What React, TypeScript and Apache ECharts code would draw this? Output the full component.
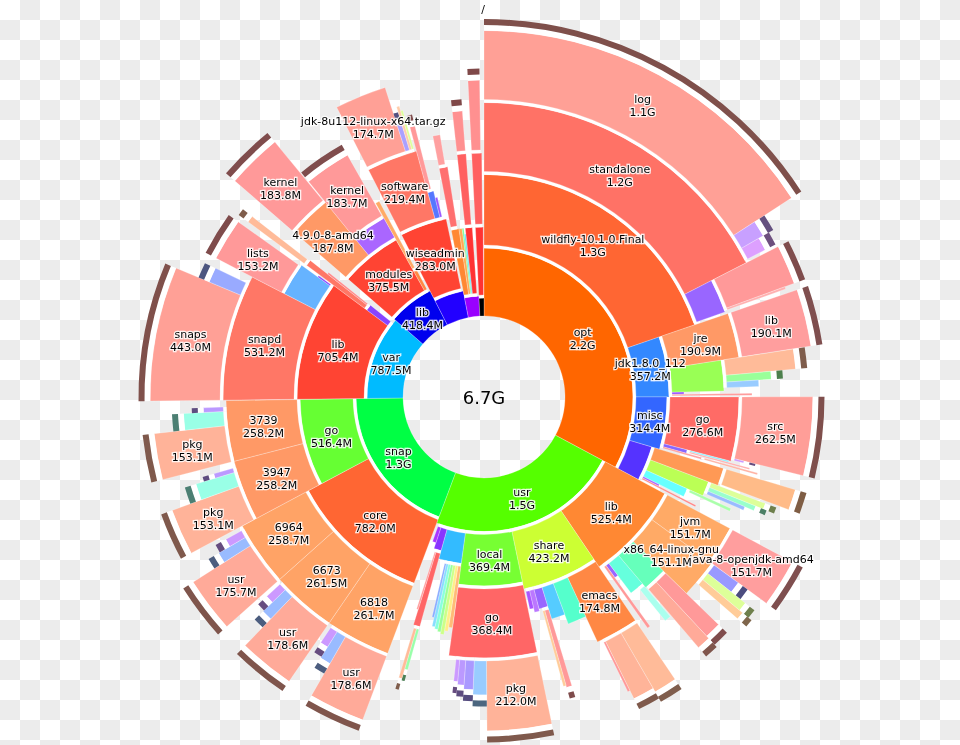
import React, { useEffect, useRef } from "react";
import * as echarts from "echarts";

type Row = [string, number];

// ---------- DATA (sizes in MiB) ----------
const topLevel: Row[] = [
  ["opt", 2235], ["usr", 1560], ["snap", 1300], ["var", 787.5],
  ["lib", 418.4], ["home", 300], ["root", 155], ["boot", 55],
];

const optRows: Row[] = [
  ["opt/wildfly-10.1.0.Final", 1345],
  ["opt/wildfly-10.1.0.Final/standalone", 1190],
  ["opt/wildfly-10.1.0.Final/standalone/log", 1080],
  ["opt/wildfly-10.1.0.Final/standalone/tmp", 55],
  ["opt/wildfly-10.1.0.Final/standalone/data", 45],
  ["opt/wildfly-10.1.0.Final/modules", 145],
  ["opt/wildfly-10.1.0.Final/modules/system", 132],
  ["opt/wildfly-10.1.0.Final/modules/extra", 8],
  ["opt/jdk1.8.0_112", 357.2],
  ["opt/jdk1.8.0_112/jre", 190.9],
  ["opt/jdk1.8.0_112/jre/lib", 190.1],
  ["opt/jdk1.8.0_112/lib", 140],
  ["opt/jdk1.8.0_112/lib/missioncontrol", 70],
  ["opt/jdk1.8.0_112/lib/visualvm", 30],
  ["opt/jdk1.8.0_112/lib/ct.sym", 25],
  ["opt/jdk1.8.0_112/src.zip", 12],
  ["opt/jdk1.8.0_112/javafx-src.zip", 8],
  ["opt/misc", 314.4],
  ["opt/misc/go", 276.6],
  ["opt/misc/go/src", 262.5],
  ["opt/misc/go/pkg", 8],
  ["opt/misc/tools", 18],
  ["opt/misc/tools/a", 7],
  ["opt/misc/tools/b", 6],
  ["opt/misc/bin", 8],
  ["opt/misc/bin/x", 7],
  ["opt/jboss", 218.4],
  ["opt/jboss/server", 78],
  ["opt/jboss/server/default", 70],
  ["opt/jboss/client", 68],
  ["opt/jboss/client/a", 22],
  ["opt/jboss/client/b", 18],
  ["opt/jboss/client/c", 14],
  ["opt/jboss/lib", 42],
  ["opt/jboss/lib/d", 12],
  ["opt/jboss/bin", 10],
  ["opt/jboss/docs", 8],
];

const usrRows: Row[] = [
  ["usr/lib", 525.4],
  ["usr/lib/jvm", 151.7],
  ["usr/lib/jvm/java-8-openjdk-amd64", 151.7],
  ["usr/lib/x86_64-linux-gnu", 151.1],
  ["usr/lib/x86_64-linux-gnu/dri", 40],
  ["usr/lib/x86_64-linux-gnu/gtk", 30],
  ["usr/lib/x86_64-linux-gnu/perl", 25],
  ["usr/lib/python3", 105],
  ["usr/lib/python3/dist-packages", 55],
  ["usr/lib/python3/x", 45],
  ["usr/lib/gcc", 65],
  ["usr/lib/gcc/y", 25],
  ["usr/lib/firmware", 18],
  ["usr/lib/locale", 12],
  ["usr/share", 423.2],
  ["usr/share/emacs", 174.8],
  ["usr/share/emacs/lisp", 75],
  ["usr/share/emacs/site-lisp", 70],
  ["usr/share/emacs/etc", 8],
  ["usr/share/doc", 85],
  ["usr/share/icons", 65],
  ["usr/share/fonts", 45],
  ["usr/share/fonts/truetype", 20],
  ["usr/share/fonts/x", 10],
  ["usr/share/locale", 25],
  ["usr/share/man", 20],
  ["usr/local", 369.4],
  ["usr/local/go", 368.4],
  ["usr/local/go/pkg", 212.0],
  ["usr/local/go/src", 50],
  ["usr/local/go/misc", 35],
  ["usr/local/go/test", 25],
  ["usr/local/go/bin", 15],
  ["usr/bin", 148],
  ["usr/bin/a", 18],
  ["usr/bin/b", 16],
  ["usr/bin/c", 16],
  ["usr/bin/d", 15],
  ["usr/bin/e", 15],
  ["usr/bin/f", 14],
  ["usr/bin/g", 10],
  ["usr/include", 50],
  ["usr/include/x", 30],
  ["usr/include/x/y", 12],
  ["usr/include/x/z", 12],
  ["usr/include/w", 8],
  ["usr/sbin", 25],
];

const snapRows: Row[] = [
  ["snap/core", 782.0],
  ["snap/core/6818", 261.7],
  ["snap/core/6818/usr", 178.6],
  ["snap/core/6818/lib", 38],
  ["snap/core/6818/bin", 30],
  ["snap/core/6673", 261.5],
  ["snap/core/6673/usr", 178.6],
  ["snap/core/6673/lib", 38],
  ["snap/core/6673/bin", 30],
  ["snap/core/6964", 258.7],
  ["snap/core/6964/usr", 175.7],
  ["snap/core/6964/lib", 38],
  ["snap/core/6964/bin", 30],
  ["snap/go", 516.4],
  ["snap/go/3947", 258.2],
  ["snap/go/3947/pkg", 153.1],
  ["snap/go/3947/src", 60],
  ["snap/go/3947/bin", 18],
  ["snap/go/3739", 258.2],
  ["snap/go/3739/pkg", 153.1],
  ["snap/go/3739/src", 60],
  ["snap/go/3739/bin", 18],
];

const varRows: Row[] = [
  ["var/lib", 705.4],
  ["var/lib/snapd", 531.2],
  ["var/lib/snapd/snaps", 443.0],
  ["var/lib/snapd/cache", 55],
  ["var/lib/apt", 160],
  ["var/lib/apt/lists", 153.2],
  ["var/lib/dpkg", 8],
  ["var/cache", 45],
  ["var/cache/apt", 30],
  ["var/cache/apt/archives", 25],
  ["var/cache/x", 10],
];

const libRows: Row[] = [
  ["lib/modules", 375.5],
  ["lib/modules/4.9.0-8-amd64", 187.8],
  ["lib/modules/4.9.0-8-amd64/kernel", 183.8],
  ["lib/modules/4.9.0-6-amd64", 187.6],
  ["lib/modules/4.9.0-6-amd64/kernel", 183.7],
  ["lib/x86_64-linux-gnu", 25],
  ["lib/x86_64-linux-gnu/y", 20],
];

const homeRows: Row[] = [
  ["home/wiseadmin", 283.0],
  ["home/wiseadmin/software", 219.4],
  ["home/wiseadmin/software/jdk-8u112-linux-x64.tar.gz", 174.7],
  ["home/wiseadmin/software/eclipse", 18],
  ["home/wiseadmin/software/a", 10],
  ["home/wiseadmin/software/b", 8],
  ["home/wiseadmin/go", 30],
  ["home/wiseadmin/go/pkg", 20],
  ["home/wiseadmin/.cache", 12],
];

const otherRows: Row[] = [
  ["root/a", 50],
  ["root/a/b", 40],
  ["root/a/b/c", 30],
  ["root/d", 20],
  ["root/e", 10],
  ["root/f", 10],
  ["root/g", 45],
  ["root/g/h", 40],
  ["root/g/h/i", 38],
  ["boot/x", 50],
  ["boot/x/y", 45],
  ["boot/x/y/z", 40],
];

// ---------- PRESENTATION: colour, ring thickness (px), flags (1 = deeper levels hidden, 2 = no label) ----------
const looks: Record<string, [string, number, number?]> = {
  "opt": ["#FF6600", 68],
  "opt/wildfly-10.1.0.Final": ["#FF6633", 70.5],
  "opt/wildfly-10.1.0.Final/standalone": ["#FF7266", 69],
  "opt/wildfly-10.1.0.Final/standalone/log": ["#FFA096", 69, 1],
  "opt/wildfly-10.1.0.Final/standalone/tmp": ["#C8A0FF", 25, 1],
  "opt/wildfly-10.1.0.Final/standalone/data": ["#DDA0FF", 20, 1],
  "opt/wildfly-10.1.0.Final/modules": ["#9966FF", 30],
  "opt/wildfly-10.1.0.Final/modules/system": ["#FF9999", 72, 1],
  "opt/wildfly-10.1.0.Final/modules/extra": ["#FFB0B0", 62],
  "opt/jdk1.8.0_112": ["#3388FF", 33],
  "opt/jdk1.8.0_112/jre": ["#FF9966", 70],
  "opt/jdk1.8.0_112/jre/lib": ["#FF9E9E", 70, 1],
  "opt/jdk1.8.0_112/lib": ["#99FF55", 52],
  "opt/jdk1.8.0_112/lib/missioncontrol": ["#FFBB99", 70, 1],
  "opt/jdk1.8.0_112/lib/visualvm": ["#99FF99", 45, 1],
  "opt/jdk1.8.0_112/lib/ct.sym": ["#99CCFF", 32],
  "opt/jdk1.8.0_112/src.zip": ["#9955FF", 12],
  "opt/jdk1.8.0_112/javafx-src.zip": ["#FF9999", 80],
  "opt/misc": ["#3366FF", 31],
  "opt/misc/go": ["#FF6B66", 69],
  "opt/misc/go/src": ["#FF9E98", 71, 1],
  "opt/misc/go/pkg": ["#CC99FF", 10, 1],
  "opt/misc/tools": ["#8866FF", 24],
  "opt/misc/tools/a": ["#88EEFF", 40],
  "opt/misc/tools/b": ["#FFAAAA", 62],
  "opt/misc/bin": ["#FF9999", 40],
  "opt/misc/bin/x": ["#FFB0A0", 55],
  "opt/jboss": ["#5533FF", 23],
  "opt/jboss/server": ["#FF9955", 72],
  "opt/jboss/server/default": ["#FFBB88", 72, 1],
  "opt/jboss/client": ["#BBFF55", 62],
  "opt/jboss/client/a": ["#DDFF99", 58, 1],
  "opt/jboss/client/b": ["#99FFCC", 50, 1],
  "opt/jboss/client/c": ["#99BBFF", 40],
  "opt/jboss/lib": ["#66FFFF", 45],
  "opt/jboss/lib/d": ["#AAFFAA", 45],
  "opt/jboss/bin": ["#AA66FF", 18],
  "opt/jboss/docs": ["#FF8888", 60],

  "usr": ["#55FF00", 53.5],
  "usr/lib": ["#FF8833", 67.5],
  "usr/lib/jvm": ["#FFAA66", 71],
  "usr/lib/jvm/java-8-openjdk-amd64": ["#FF9E9E", 68, 1],
  "usr/lib/x86_64-linux-gnu": ["#FFAA66", 74],
  "usr/lib/x86_64-linux-gnu/dri": ["#9999FF", 30, 1],
  "usr/lib/x86_64-linux-gnu/gtk": ["#DDFF99", 48, 1],
  "usr/lib/x86_64-linux-gnu/perl": ["#FFCC99", 52, 1],
  "usr/lib/python3": ["#66FFBB", 42],
  "usr/lib/python3/dist-packages": ["#FF9999", 74, 1],
  "usr/lib/python3/x": ["#FFAA99", 77, 1],
  "usr/lib/gcc": ["#66FFDD", 37],
  "usr/lib/gcc/y": ["#AAFFEE", 40],
  "usr/lib/firmware": ["#9966FF", 15],
  "usr/lib/locale": ["#FF9999", 75],
  "usr/share": ["#CCFF33", 58.5],
  "usr/share/emacs": ["#FF8844", 71],
  "usr/share/emacs/lisp": ["#FFBB99", 68, 1],
  "usr/share/emacs/site-lisp": ["#FFB499", 64, 1],
  "usr/share/emacs/etc": ["#FF9999", 55],
  "usr/share/doc": ["#55FFCC", 43],
  "usr/share/icons": ["#55CCFF", 33],
  "usr/share/fonts": ["#9966FF", 20],
  "usr/share/fonts/truetype": ["#FF9999", 80, 1],
  "usr/share/fonts/x": ["#FFCC99", 78],
  "usr/share/locale": ["#BB77FF", 22],
  "usr/share/man": ["#AA55FF", 18],
  "usr/local": ["#77FF33", 51.5],
  "usr/local/go": ["#FF6666", 69],
  "usr/local/go/pkg": ["#FFB399", 70, 1],
  "usr/local/go/src": ["#99CCFF", 34, 1],
  "usr/local/go/misc": ["#AA99FF", 29, 1],
  "usr/local/go/test": ["#BB99FF", 25, 1],
  "usr/local/go/bin": ["#CC99FF", 22, 1],
  "usr/bin": ["#33BBFF", 30.5],
  "usr/bin/a": ["#FFBB77", 62],
  "usr/bin/b": ["#FFEE88", 66],
  "usr/bin/c": ["#CCFF88", 70],
  "usr/bin/d": ["#99FF99", 68],
  "usr/bin/e": ["#88FFDD", 66],
  "usr/bin/f": ["#88DDFF", 64],
  "usr/bin/g": ["#88AAFF", 55],
  "usr/include": ["#8833FF", 22],
  "usr/include/x": ["#FF6666", 76],
  "usr/include/x/y": ["#99FFAA", 42, 1],
  "usr/include/x/z": ["#FFBB99", 52, 1],
  "usr/include/w": ["#FF9999", 60],
  "usr/sbin": ["#AA33FF", 16],

  "snap": ["#00FF44", 47],
  "snap/core": ["#FF6633", 68],
  "snap/core/6818": ["#FFA366", 72],
  "snap/core/6818/usr": ["#FFAA99", 68, 1],
  "snap/core/6818/lib": ["#99BBFF", 31, 1],
  "snap/core/6818/bin": ["#CC99FF", 18, 1],
  "snap/core/6673": ["#FFA366", 72],
  "snap/core/6673/usr": ["#FFAA99", 68, 1],
  "snap/core/6673/lib": ["#99BBFF", 31, 1],
  "snap/core/6673/bin": ["#CC99FF", 18, 1],
  "snap/core/6964": ["#FFA366", 72],
  "snap/core/6964/usr": ["#FFAA99", 68, 1],
  "snap/core/6964/lib": ["#99BBFF", 31, 1],
  "snap/core/6964/bin": ["#CC99FF", 18, 1],
  "snap/go": ["#66FF33", 53],
  "snap/go/3947": ["#FF9966", 71],
  "snap/go/3947/pkg": ["#FFB399", 71, 1],
  "snap/go/3947/src": ["#99FFE6", 40, 1],
  "snap/go/3947/bin": ["#BB99FF", 20, 1],
  "snap/go/3739": ["#FF9966", 71],
  "snap/go/3739/pkg": ["#FFB399", 71, 1],
  "snap/go/3739/src": ["#99FFE6", 40, 1],
  "snap/go/3739/bin": ["#BB99FF", 20, 1],

  "var": ["#00BBFF", 36],
  "var/lib": ["#FF4433", 67],
  "var/lib/snapd": ["#FF7766", 71],
  "var/lib/snapd/snaps": ["#FFA096", 70, 1],
  "var/lib/snapd/cache": ["#99AAFF", 34, 1],
  "var/lib/apt": ["#66B3FF", 35, 2],
  "var/lib/apt/lists": ["#FF9999", 74, 1],
  "var/lib/dpkg": ["#8844FF", 15],
  "var/cache": ["#8844FF", 26],
  "var/cache/apt": ["#FF7766", 72],
  "var/cache/apt/archives": ["#FFBB99", 70, 1],
  "var/cache/x": ["#FF8888", 50],

  "lib": ["#0000EE", 38],
  "lib/modules": ["#FF4433", 58],
  "lib/modules/4.9.0-8-amd64": ["#FF9966", 68],
  "lib/modules/4.9.0-8-amd64/kernel": ["#FF9999", 76, 1],
  "lib/modules/4.9.0-6-amd64": ["#AA66FF", 22],
  "lib/modules/4.9.0-6-amd64/kernel": ["#FF9999", 70, 1],
  "lib/x86_64-linux-gnu": ["#FF8844", 22],
  "lib/x86_64-linux-gnu/y": ["#FFAA66", 75],

  "home": ["#2200FF", 27],
  "home/wiseadmin": ["#FF4433", 71],
  "home/wiseadmin/software": ["#FF7766", 70],
  "home/wiseadmin/software/jdk-8u112-linux-x64.tar.gz": ["#FFA096", 67],
  "home/wiseadmin/software/eclipse": ["#AAA0FF", 28, 1],
  "home/wiseadmin/software/a": ["#FFCCAA", 45],
  "home/wiseadmin/software/b": ["#DDFF99", 40],
  "home/wiseadmin/go": ["#5577FF", 27],
  "home/wiseadmin/go/pkg": ["#FF9999", 65, 1],
  "home/wiseadmin/.cache": ["#9955FF", 20],

  "root": ["#9900FF", 20],
  "root/a": ["#FF8833", 66],
  "root/a/b": ["#FF7070", 60],
  "root/a/b/c": ["#FFA0A0", 30],
  "root/d": ["#FFAA55", 66],
  "root/e": ["#77FF99", 66],
  "root/f": ["#55DDFF", 60],
  "root/g": ["#FF3333", 66],
  "root/g/h": ["#FF6060", 71],
  "root/g/h/i": ["#FF9090", 40, 1],
  "boot": ["#000000", 18],
  "boot/x": ["#FF3333", 68],
  "boot/x/y": ["#FF6060", 71],
  "boot/x/y/z": ["#FF9090", 70, 1],
};

const HOLE_R = 81;
const GAP = 3;
const FONT = '"DejaVu Sans", "Liberation Sans", sans-serif';

interface Node {
  path: string; name: string; size: number; level: number;
  children: Node[]; a0: number; a1: number; r1: number; r2: number;
  color: string; width: number; flags: number;
}

const fmt = (v: number) => (v >= 1024 ? (v / 1024).toFixed(1) + "G" : v.toFixed(1) + "M");

function build() {
  const rows: Row[] = [...topLevel, ...optRows, ...usrRows, ...snapRows, ...varRows, ...libRows, ...homeRows, ...otherRows];
  const total = topLevel.reduce((s, r) => s + r[1], 0);
  const root: Node = { path: "", name: "/", size: total, level: 0, children: [], a0: 0, a1: total, r1: 0, r2: 0, color: "#fff", width: 0, flags: 0 };
  const map = new Map<string, Node>([["", root]]);
  const list: Node[] = [];
  for (const [path, size] of rows) {
    const k = path.lastIndexOf("/");
    const parent = map.get(k < 0 ? "" : path.slice(0, k));
    if (!parent) continue;
    const look = looks[path] || ["#cccccc", 20, 0];
    const n: Node = { path, name: path.slice(k + 1), size, level: parent.level + 1, children: [], a0: 0, a1: 0, r1: 0, r2: 0, color: look[0], width: look[1], flags: look[2] || 0 };
    parent.children.push(n);
    map.set(path, n);
    list.push(n);
  }
  const place = (p: Node) => {
    let cur = p.a0;
    for (const c of p.children) {
      c.a0 = cur; c.a1 = cur + c.size; cur = c.a1;
      c.r1 = p.level === 0 ? HOLE_R : p.r2 + GAP;
      c.r2 = c.r1 + c.width;
      place(c);
    }
  };
  place(root);
  return { total, list };
}

const darken = (hex: string) => {
  const v = parseInt(hex.slice(1), 16);
  return `rgb(${((v >> 16) & 255) >> 1},${((v >> 8) & 255) >> 1},${(v & 255) >> 1})`;
};

export default function App() {
  const ref = useRef<HTMLDivElement>(null);
  useEffect(() => {
    if (!ref.current) return;
    const { total, list } = build();
    const chart = echarts.init(ref.current, null, { renderer: "svg", width: 960, height: 745 });
    const data = list.map((n, i) => [n.r1, n.a0, n.r2, n.a1, i]);

    const geom = (params: any, api: any) => {
      const cx = params.coordSys.cx, cy = params.coordSys.cy;
      const p0 = api.coord([api.value(0), api.value(1)]);
      const p1 = api.coord([api.value(2), api.value(3)]);
      const rIn = Math.hypot(p0[0] - cx, p0[1] - cy);
      const rOut = Math.hypot(p1[0] - cx, p1[1] - cy);
      const s = Math.atan2(p0[1] - cy, p0[0] - cx);
      let e = Math.atan2(p1[1] - cy, p1[0] - cx);
      while (e <= s) e += Math.PI * 2;
      return { cx, cy, rIn, rOut, s, e };
    };

    const sectorItem = (params: any, api: any) => {
      const n = list[api.value(4)];
      const { cx, cy, rIn, rOut, s, e } = geom(params, api);
      const kids: any[] = [];
      if (n.level > 1) {
        kids.push({ type: "sector", shape: { cx, cy, r0: rIn - GAP - 0.2, r: rIn + 0.3, startAngle: s, endAngle: e, clockwise: true }, style: { fill: "#ffffff" } });
      }
      kids.push({ type: "sector", shape: { cx, cy, r0: rIn, r: rOut, startAngle: s, endAngle: e, clockwise: true }, style: { fill: n.color, stroke: "rgba(255,255,255,0.5)", lineWidth: 0.5 } });
      if (n.flags & 1) {
        kids.push({ type: "sector", shape: { cx, cy, r0: rOut - 0.3, r: rOut + 5.5, startAngle: s, endAngle: e, clockwise: true }, style: { fill: "#ffffff" } });
        kids.push({ type: "sector", shape: { cx, cy, r0: rOut + 5.5, r: rOut + 11.5, startAngle: s, endAngle: e, clockwise: true }, style: { fill: darken(n.color) } });
      }
      return { type: "group", children: kids };
    };

    const labelItem = (params: any, api: any) => {
      const n = list[api.value(4)];
      if (!(n.size >= 150 && n.width >= 28 && !(n.flags & 2))) return null;
      const c = api.coord([(api.value(0) + api.value(2)) / 2, (api.value(1) + api.value(3)) / 2]);
      const text = n.name + "\n" + fmt(n.size);
      const base = { text, font: `11px ${FONT}`, align: "center", textAlign: "center", verticalAlign: "middle", textVerticalAlign: "middle", lineHeight: 13 };
      return {
        type: "group",
        children: [
          { type: "text", x: c[0], y: c[1] + 1, style: { ...base, fill: "rgba(255,255,255,0.9)", stroke: "rgba(255,255,255,0.85)", lineWidth: 2.6, lineJoin: "round" } },
          { type: "text", x: c[0], y: c[1] + 1, style: { ...base, fill: "#000000" } },
        ],
      };
    };

    chart.setOption({
      animation: false,
      backgroundColor: "transparent",
      polar: { center: [484, 397], radius: 400 },
      angleAxis: { type: "value", min: 0, max: total, startAngle: 90, clockwise: true, show: false, axisLine: { show: false }, splitLine: { show: false }, axisLabel: { show: false }, axisTick: { show: false } },
      radiusAxis: { type: "value", min: 0, max: 400, show: false, axisLine: { show: false }, splitLine: { show: false }, axisLabel: { show: false }, axisTick: { show: false } },
      series: [
        { type: "custom", coordinateSystem: "polar", silent: true, data, renderItem: sectorItem, z: 2 },
        { type: "custom", coordinateSystem: "polar", silent: true, data, renderItem: labelItem, z: 5 },
      ],
      graphic: [
        { type: "text", x: 484, y: 397, z: 10, style: { text: fmt(total), font: `18px ${FONT}`, fill: "#000", align: "center", textAlign: "center", verticalAlign: "middle", textVerticalAlign: "middle" } },
        { type: "text", x: 483, y: 9, z: 10, style: { text: "/", font: `11px ${FONT}`, fill: "#000", align: "center", textAlign: "center", verticalAlign: "middle", textVerticalAlign: "middle" } },
      ],
    });
    return () => chart.dispose();
  }, []);

  return (
    <div
      style={{
        position: "fixed", left: 0, top: 0, width: 960, height: 745,
        background: "repeating-conic-gradient(#ececec 0 25%, #ffffff 0 50%) 0 0 / 40px 40px",
      }}
    >
      <div ref={ref} style={{ width: 960, height: 745 }} />
    </div>
  );
}
